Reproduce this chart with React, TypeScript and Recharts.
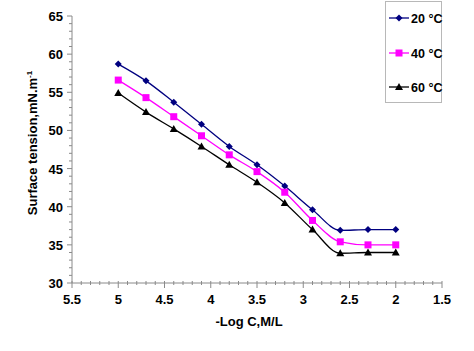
import { LineChart, Line, XAxis, YAxis } from 'recharts';

const LOG_C = [5, 4.7, 4.4, 4.1, 3.8, 3.5, 3.2, 2.9, 2.6, 2.3, 2.0];
const T20 = [58.7, 56.5, 53.7, 50.8, 47.9, 45.5, 42.7, 39.6, 36.9, 37.0, 37.0];
const T40 = [56.6, 54.3, 51.8, 49.3, 46.8, 44.6, 41.9, 38.2, 35.4, 35.0, 35.0];
const T60 = [54.9, 52.4, 50.2, 47.9, 45.5, 43.2, 40.5, 37.0, 33.9, 34.0, 34.0];

const X_MAJOR = [5.5, 5, 4.5, 4, 3.5, 3, 2.5, 2, 1.5];
const Y_MAJOR = [30, 35, 40, 45, 50, 55, 60, 65];

const SERIES = [
  { key: 't20', name: '20 °C', color: '#000080', shape: 'diamond' },
  { key: 't40', name: '40 °C', color: '#FF00FF', shape: 'square' },
  { key: 't60', name: '60 °C', color: '#000000', shape: 'triangle' },
];

const FONT = '"Liberation Sans", Arial, sans-serif';
const AXIS = '#8a8a8a';

const data = LOG_C.map((x, i) => ({ x, t20: T20[i], t40: T40[i], t60: T60[i] }));

// minor ticks: 0.1 on x, 1 on y
const xTicks: number[] = [];
for (let i = 15; i <= 55; i++) xTicks.push(i / 10);
const yTicks: number[] = [];
for (let v = 30; v <= 65; v++) yTicks.push(v);

function Marker({ cx, cy, shape, color }: { cx: number; cy: number; shape: string; color: string }) {
  if (cx == null || cy == null) return null;
  if (shape === 'diamond') {
    const r = 3.5;
    return <polygon points={`${cx},${cy - r} ${cx + r},${cy} ${cx},${cy + r} ${cx - r},${cy}`} fill={color} />;
  }
  if (shape === 'square') {
    return <rect x={cx - 3.5} y={cy - 3.5} width={7} height={7} fill={color} />;
  }
  return <polygon points={`${cx},${cy - 4} ${cx + 4},${cy + 3} ${cx - 4},${cy + 3}`} fill={color} />;
}

function XTick(props: any) {
  const { x, y, payload } = props;
  const v = payload.value;
  const major = X_MAJOR.some((m) => Math.abs(m - v) < 1e-6);
  return (
    <g>
      <line x1={x} x2={x} y1={y - 2} y2={major ? y + 5 : y + 2} stroke={AXIS} strokeWidth={1} />
      {major && (
        <text x={x} y={y + 21} textAnchor="middle" fontFamily={FONT} fontWeight="bold" fontSize={13} fill="#000">
          {v}
        </text>
      )}
    </g>
  );
}

function YTick(props: any) {
  const { x, y, payload } = props;
  const v = payload.value;
  const major = Y_MAJOR.includes(v);
  return (
    <g>
      <line x1={major ? x - 5 : x - 3} x2={x} y1={y} y2={y} stroke={AXIS} strokeWidth={1} />
      {major && (
        <text x={x - 9} y={y + 5} textAnchor="end" fontFamily={FONT} fontWeight="bold" fontSize={13} fill="#000">
          {v}
        </text>
      )}
    </g>
  );
}

function LegendBox() {
  return (
    <div
      style={{
        position: 'absolute',
        left: 385,
        top: 1,
        width: 57,
        height: 102,
        border: '1px solid #b8b8b8',
        boxSizing: 'border-box',
        background: '#fff',
      }}
    >
      {SERIES.map((s, i) => (
        <svg key={s.key} width={57} height={14} style={{ position: 'absolute', left: 0, top: 9 + i * 34.5 }}>
          <line x1={3} x2={23} y1={7} y2={7} stroke={s.color} strokeWidth={1.3} />
          <Marker cx={13} cy={7} shape={s.shape} color={s.color} />
          <text x={25} y={11.5} fontFamily={FONT} fontWeight="bold" fontSize={12.5} fill="#000">
            {s.name}
          </text>
        </svg>
      ))}
    </div>
  );
}

export default function App() {
  return (
    <div style={{ position: 'absolute', left: 0, top: 0, width: 474, height: 351, background: '#fff' }}>
      <LineChart width={474} height={351} data={data} margin={{ top: 16, right: 32, left: 0, bottom: 0 }}>
        <XAxis
          dataKey="x"
          type="number"
          domain={[1.5, 5.5]}
          reversed
          ticks={xTicks}
          interval={0}
          tick={<XTick />}
          tickLine={false}
          tickSize={0}
          tickMargin={0}
          height={68}
          stroke={AXIS}
          allowDecimals
        />
        <YAxis
          type="number"
          domain={[30, 65]}
          ticks={yTicks}
          interval={0}
          tick={<YTick />}
          tickLine={false}
          tickSize={0}
          tickMargin={0}
          width={72}
          stroke={AXIS}
        />
        {SERIES.map((s) => (
          <Line
            key={s.key}
            dataKey={s.key}
            name={s.name}
            type="monotone"
            stroke={s.color}
            strokeWidth={1.3}
            isAnimationActive={false}
            dot={(p: any) => <Marker key={`${s.key}-${p.index}`} cx={p.cx} cy={p.cy} shape={s.shape} color={s.color} />}
            activeDot={false}
          />
        ))}
        <text x={249} y={326} textAnchor="middle" fontFamily={FONT} fontWeight="bold" fontSize={13} fill="#000">
          -Log C,M/L
        </text>
        <text
          transform="translate(37,143) rotate(-90)"
          textAnchor="middle"
          fontFamily={FONT}
          fontWeight="bold"
          fontSize={13}
          fill="#000"
        >
          Surface tension,mN.m
          <tspan fontSize={8} dy={-5}>-1</tspan>
        </text>
      </LineChart>
      <LegendBox />
    </div>
  );
}
